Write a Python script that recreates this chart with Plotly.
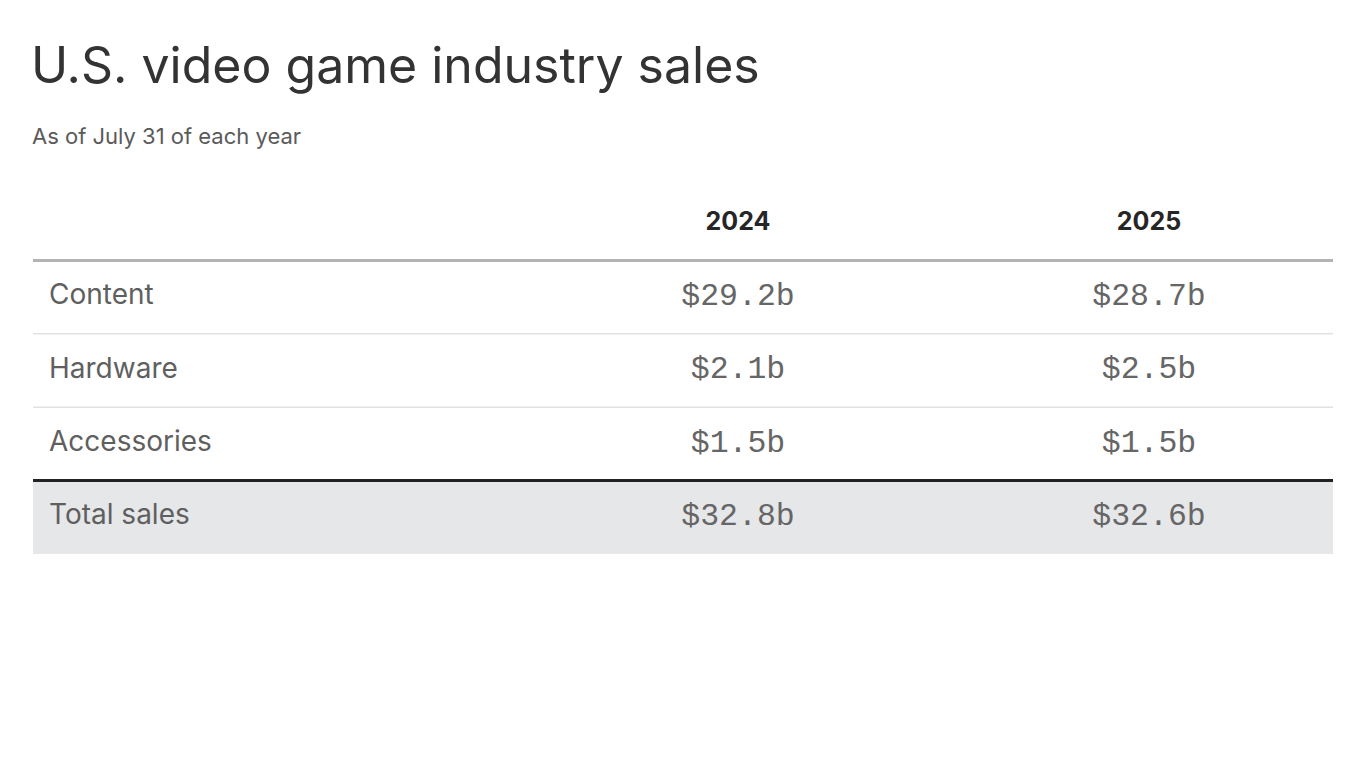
import plotly.graph_objects as go

# table content
categories = ["Content", "Hardware", "Accessories", "Total sales"]
years = ["2024", "2025"]
sales_2024 = ["$29.2b", "$2.1b", "$1.5b", "$32.8b"]
sales_2025 = ["$28.7b", "$2.5b", "$1.5b", "$32.6b"]

TITLE = "U.S. video game industry sales"
SUBTITLE = "As of July 31 of each year"

# layout in plot units: x is px inside the table, y is row index
LABEL_X = 16
COL_X = [705, 1116]
TABLE_W = 1300
HEADER_Y = -1
rows = list(range(len(categories)))

fig = go.Figure()

# header
fig.add_trace(go.Scatter(
    x=COL_X,
    y=[HEADER_Y] * len(years),
    text=years,
    mode="text",
    textposition="middle center",
    textfont=dict(family="Inter", size=25, color="#262626", weight="bold"),
    hoverinfo="skip",
))

# row labels
fig.add_trace(go.Scatter(
    x=[LABEL_X] * len(categories),
    y=rows,
    text=categories,
    mode="text",
    textposition="middle right",
    textfont=dict(family="Inter", size=28, color="#5f5f5f"),
    hoverinfo="skip",
))

# values
for cx, vals in zip(COL_X, [sales_2024, sales_2025]):
    fig.add_trace(go.Scatter(
        x=[cx] * len(vals),
        y=rows,
        text=vals,
        mode="text",
        textposition="middle center",
        textfont=dict(family="Liberation Mono", size=31.5, color="#666666"),
        hoverinfo="skip",
    ))

# total row background
last = len(categories) - 1
fig.add_shape(type="rect", xref="x", yref="y", x0=0, x1=TABLE_W,
              y0=last - 0.5, y1=last + 0.5,
              fillcolor="#e6e7e9", line_width=0, layer="below")

# row rules
fig.add_shape(type="line", xref="x", yref="y", x0=0, x1=TABLE_W,
              y0=-0.5, y1=-0.5, line=dict(color="#b3b3b3", width=3))
for r in rows[:-2]:
    fig.add_shape(type="line", xref="x", yref="y", x0=0, x1=TABLE_W,
                  y0=r + 0.5, y1=r + 0.5, line=dict(color="#e2e2e2", width=1.5))
fig.add_shape(type="line", xref="x", yref="y", x0=0, x1=TABLE_W,
              y0=last - 0.5, y1=last - 0.5, line=dict(color="#222222", width=3))

# title and subtitle
fig.add_annotation(text=TITLE, xref="paper", yref="paper", x=0, y=1,
                   xanchor="left", yanchor="bottom", yshift=90, showarrow=False,
                   xshift=-4,
                   font=dict(family="Inter", size=50, color="#333333"))
fig.add_annotation(text=SUBTITLE, xref="paper", yref="paper", x=0, y=1,
                   xanchor="left", yanchor="bottom", yshift=36, showarrow=False,
                   xshift=-3,
                   font=dict(family="Inter", size=22, color="#5a5a5a"))

fig.update_xaxes(range=[0, TABLE_W], visible=False, fixedrange=True)
fig.update_yaxes(range=[last + 0.5, HEADER_Y - 0.5], visible=False, fixedrange=True)
fig.update_layout(
    width=1350,
    height=752,
    margin=dict(l=25, r=25, t=179, b=206),
    plot_bgcolor="white",
    paper_bgcolor="white",
    showlegend=False,
)

fig.write_html("out.html")
